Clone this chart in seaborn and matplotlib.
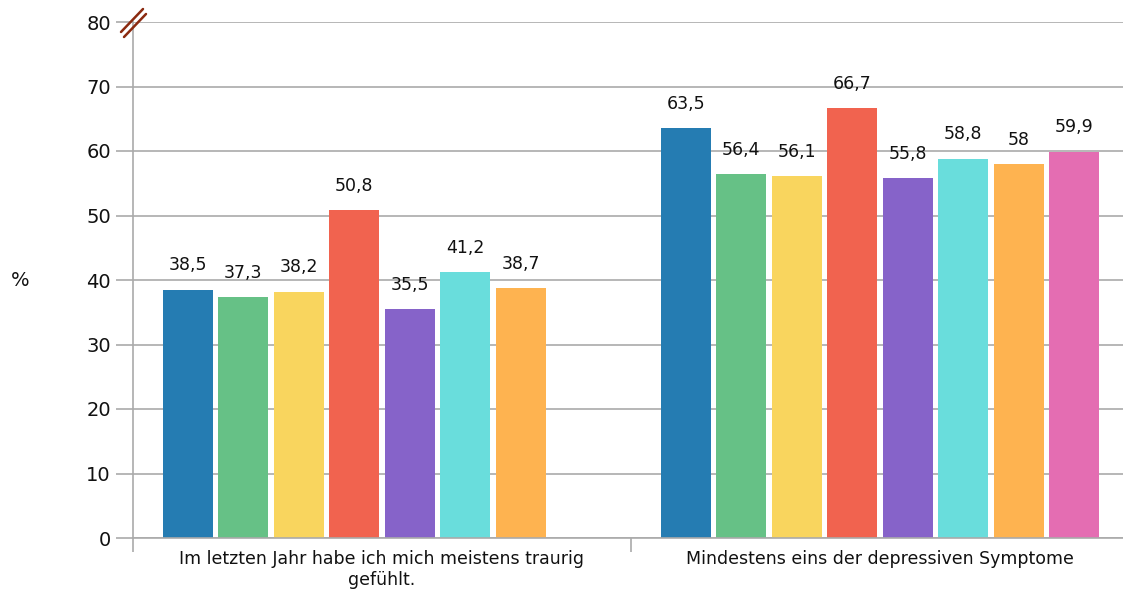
import numpy as np
import pandas as pd
import matplotlib
matplotlib.use("Agg")
import matplotlib.pyplot as plt
from matplotlib.lines import Line2D
import seaborn as sns

# data
categories = ["Im letzten Jahr habe ich mich meistens traurig\ngefühlt.",
              "Mindestens eins der depressiven Symptome"]
series = ["S1", "S2", "S3", "S4", "S5", "S6", "S7", "S8"]
values_cat1 = [38.5, 37.3, 38.2, 50.8, 35.5, 41.2, 38.7, np.nan]
values_cat2 = [63.5, 56.4, 56.1, 66.7, 55.8, 58.8, 58.0, 59.9]
colors = ["#257CB2", "#66C186", "#F9D55E", "#F1634F",
          "#8663C9", "#69DDDC", "#FEB350", "#E46DB2"]
y_ticks = [0, 10, 20, 30, 40, 50, 60, 70, 80]

rows = []
for s, v1, v2 in zip(series, values_cat1, values_cat2):
    rows.append({"cat": categories[0], "series": s, "val": v1})
    rows.append({"cat": categories[1], "series": s, "val": v2})
df = pd.DataFrame(rows)

sns.set_style("white")
plt.rcParams["font.family"] = ["DejaVu Sans"]

W, H = 1123, 593
fig = plt.figure(figsize=(W / 100, H / 100), dpi=100)
# axes from x=133 to ~1129 px, y=22 to 538 px
ax = fig.add_axes([133 / W, 1 - 538 / H, 996 / W, 516 / H])

sns.barplot(data=df, x="cat", y="val", hue="series", order=categories,
            hue_order=series, palette=colors, width=0.892, gap=0.1,
            saturation=1, errorbar=None, legend=False, linewidth=0, ax=ax)

for cont in ax.containers:
    labels = []
    for bar in cont:
        h = bar.get_height()
        labels.append("" if np.isnan(h) else f"{h:g}".replace(".", ","))
    ax.bar_label(cont, labels=labels, padding=11, fontsize=12.5, color="#111111")

ax.set_ylim(0, 80)
ax.set_xlim(-0.5, 1.5)
ax.set_yticks(y_ticks)
ax.set_yticklabels([str(t) for t in y_ticks], fontsize=14, color="#111111")
ax.yaxis.grid(True, color="#AAAAAA", linewidth=1.2)
ax.set_axisbelow(True)

ax.set_xticks([-0.5, 0.5, 1.5])
ax.set_xticklabels([])
ax.set_xticks([0, 1], minor=True)
ax.set_xticklabels(categories, minor=True, fontsize=12.5, color="#111111")
ax.tick_params(axis="x", which="major", bottom=True, length=10, color="#AAAAAA", width=1.2)
ax.tick_params(axis="x", which="minor", bottom=True, length=0, pad=9)
ax.tick_params(axis="y", left=True, length=12, color="#AAAAAA", width=1.2, pad=4)

for sp in ["top", "right"]:
    ax.spines[sp].set_visible(False)
for sp in ["left", "bottom"]:
    ax.spines[sp].set_color("#AAAAAA")
    ax.spines[sp].set_linewidth(1.2)

ax.set_xlabel("")
ax.set_ylabel("%", rotation=0, fontsize=14, va="center", ha="center", color="#111111")
ax.yaxis.set_label_coords((20 - 133) / 996, 0.5)

# axis break marker (two slanted strokes at the top of the y axis)
for (x0, y0, x1, y1) in [(121, 32, 143, 9), (124, 37, 146, 14)]:
    fig.add_artist(Line2D([x0 / W, x1 / W], [1 - y0 / H, 1 - y1 / H],
                          transform=fig.transFigure, color="#8B2A10", linewidth=1.8))

fig.savefig("out.png", dpi=100)
